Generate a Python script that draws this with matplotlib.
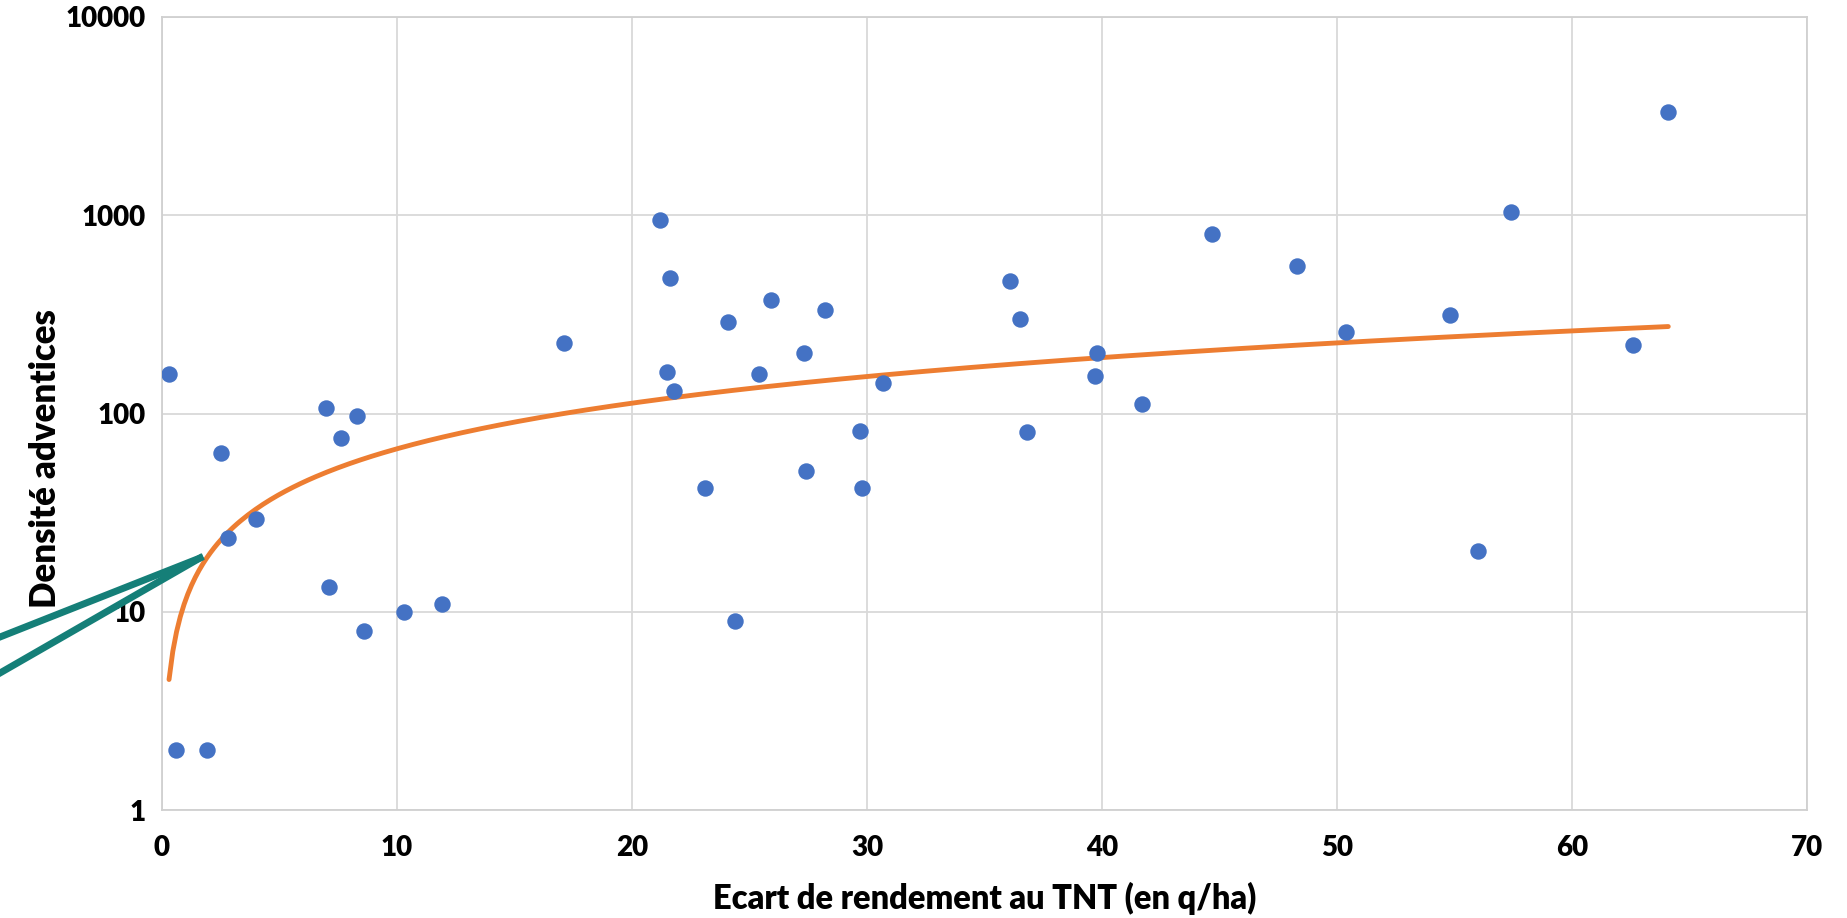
import numpy as np
import matplotlib.pyplot as plt
from matplotlib.lines import Line2D

# yield gap vs weed density
ecart = [0.3, 0.6, 1.9, 2.5, 2.8, 4.0, 7.0, 7.1, 7.6, 8.3, 8.6, 10.3, 11.9,
         17.1, 21.2, 21.6, 21.5, 21.8, 23.1, 24.1, 24.4, 25.4, 25.9, 27.3,
         27.4, 28.2, 29.7, 29.8, 30.7, 36.1, 36.5, 36.8, 39.8, 39.7, 41.7,
         44.7, 48.3, 50.4, 54.8, 56.0, 57.4, 62.6, 64.1]
densite = [158, 2, 2, 63, 23.5, 29.5, 106, 13.3, 75, 97, 8.0, 10, 11,
           226, 950, 480, 162, 130, 42, 290, 9.0, 158, 375, 202,
           51, 331, 82, 42, 142, 467, 300, 81, 202, 154, 112,
           805, 557, 259, 314, 20.3, 1040, 221, 3320]

x_ticks = [0, 10, 20, 30, 40, 50, 60, 70]
y_ticks = [1, 10, 100, 1000, 10000]

x = np.array(ecart)
y = np.array(densite)

# power trendline (as Excel does it: fit in log-log)
p, lnc = np.polyfit(np.log(x), np.log(y), 1)
xt = np.linspace(x.min(), x.max(), 400)
yt = np.exp(lnc) * xt ** p

plt.rcParams['font.family'] = ['Lato', 'DejaVu Sans']

fig = plt.figure(figsize=(18.47, 9.18), dpi=100)
ax = fig.add_axes([0.0877, 0.1176, 0.8906, 0.8639])

ax.scatter(x, y, s=140, color='#4472C4', zorder=3, linewidths=0)
ax.plot(xt, yt, color='#ED7D31', lw=3.5, solid_capstyle='round', zorder=2)

ax.set_yscale('log')
ax.set_xlim(0, 70)
ax.set_ylim(1, 10000)
ax.set_xticks(x_ticks)
ax.set_xticklabels([str(t) for t in x_ticks])
ax.set_yticks(y_ticks)
ax.set_yticklabels([str(t) for t in y_ticks])
ax.minorticks_off()

ax.grid(True, color='#D9D9D9', lw=1.3)
ax.set_axisbelow(True)
for s in ax.spines.values():
    s.set_color('#D0D0D0')
    s.set_linewidth(1.3)
ax.tick_params(length=0, labelsize=20, pad=12)
for lab in ax.get_xticklabels() + ax.get_yticklabels():
    lab.set_fontweight('heavy')
ax.tick_params(axis='x', pad=18)

ax.set_xlabel('Ecart de rendement au TNT (en q/ha)', fontsize=23.5,
              fontweight='heavy', labelpad=15)
ax.set_ylabel('Densité adventices', fontsize=25, fontweight='heavy')
ax.yaxis.set_label_coords(-0.061, 0.443)

# leftover teal arrow strokes pointing at the curve
teal = '#157F78'
fig.add_artist(Line2D([0, 200 / 1847], [1 - 637 / 918, 1 - 558 / 918],
                      color=teal, lw=5, transform=fig.transFigure))
fig.add_artist(Line2D([0, 200 / 1847], [1 - 673 / 918, 1 - 558 / 918],
                      color=teal, lw=5, transform=fig.transFigure))

fig.savefig('out.png', dpi=100)
